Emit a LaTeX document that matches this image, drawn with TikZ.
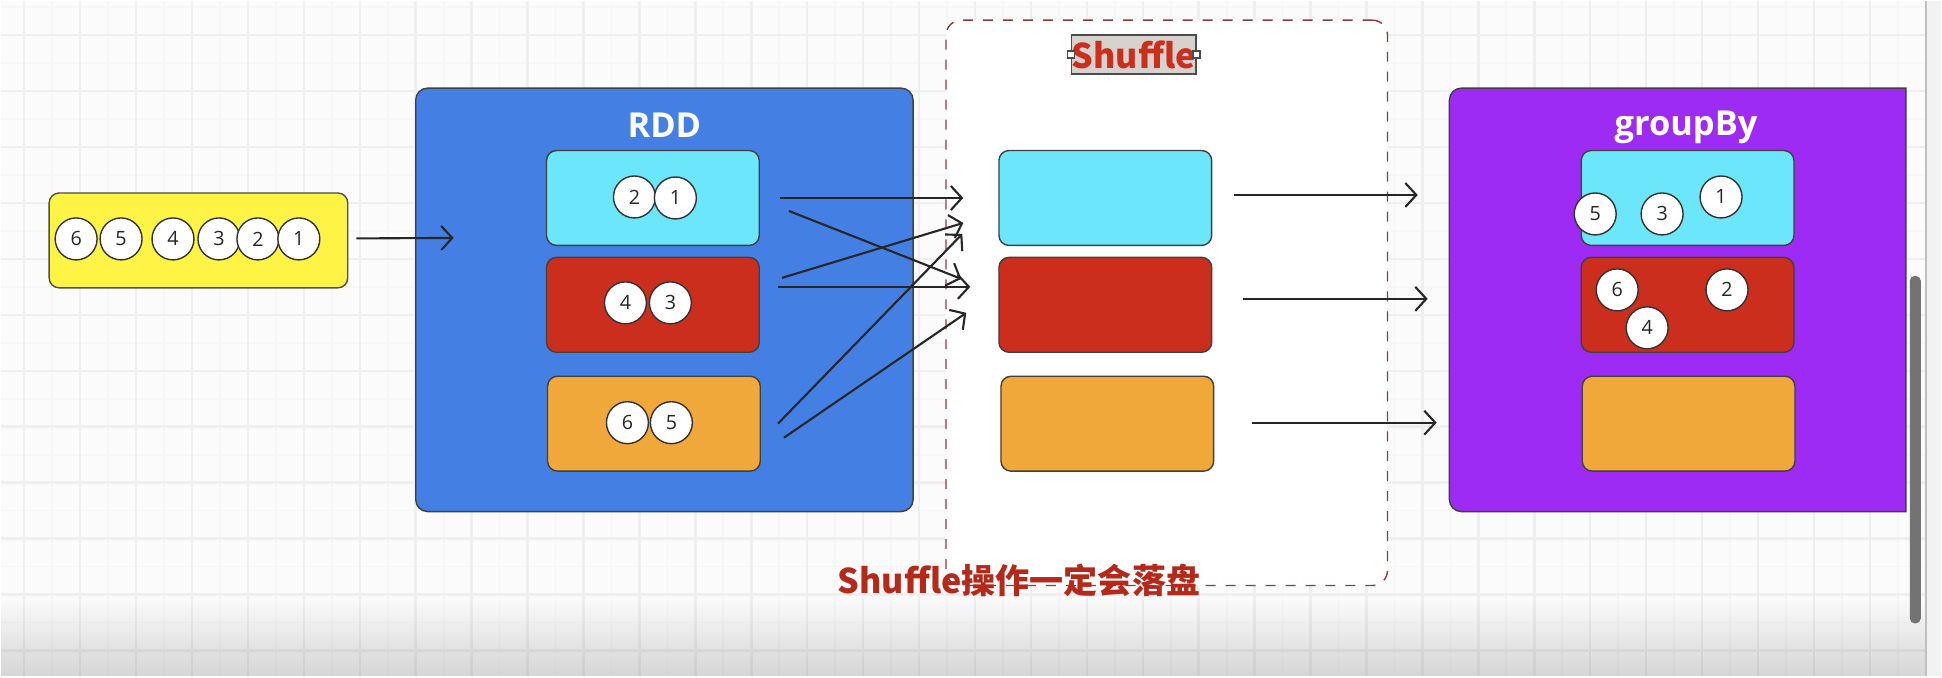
\documentclass[tikz,border=0pt]{standalone}
\usepackage{fontspec}
\setmainfont{Open Sans}
\setsansfont{Open Sans}
\newfontfamily\cjk{Noto Sans CJK SC}
\usepackage{xcolor}
\usetikzlibrary{arrows.meta,fadings}

\definecolor{canvas}{HTML}{FBFBFB}
\definecolor{gridmaj}{HTML}{EFEFEF}
\definecolor{gridmin}{HTML}{F6F6F6}
\definecolor{lemon}{HTML}{FFF345}
\definecolor{rddblue}{HTML}{4480E3}
\definecolor{partcyan}{HTML}{6BE6FA}
\definecolor{partred}{HTML}{CC2E1D}
\definecolor{partorange}{HTML}{F0A83A}
\definecolor{grpurple}{HTML}{9E2BF3}
\definecolor{diskred}{HTML}{B5291B}
\definecolor{dashred}{HTML}{8E3B3B}
\definecolor{tagfill}{HTML}{D8D2CE}

\begin{document}
\begin{tikzpicture}[
  every node/.style={font=\sffamily},
  title/.style={text=white, font=\sffamily\bfseries\fontsize{9.8}{11}\selectfont},
  frame/.style={draw=black!75, rounded corners=0.12cm, outer sep=0pt, minimum height=4.24cm},
  part/.style={draw=black!75, rounded corners=0.1cm, minimum width=2.13cm, minimum height=0.95cm},
  ball/.style={circle, draw=black!80, fill=white, minimum size=0.42cm, inner sep=0pt, text=black!85,
    font=\sffamily\fontsize{5.6}{6}\selectfont},
  arrow/.style={-{Straight Barb[length=1.1mm,width=2.4mm]}, line width=0.6pt, draw=black!85},
  handle/.style={draw=black!70, fill=white, minimum size=0.07cm, inner sep=0pt},
]

\fill[canvas] (0,0) rectangle (19.42,6.76);
\foreach \k in {0,...,33} \draw[gridmin, line width=0.5pt] ({0.51+0.56*\k},0) -- ++(0,6.76);
\foreach \k in {0,...,11} \draw[gridmin, line width=0.5pt] (0,{6.70-0.56*\k}) -- ++(19.42,0);
\foreach \k in {0,...,34} \draw[gridmaj, line width=0.7pt] ({0.23+0.56*\k},0) -- ++(0,6.76);
\foreach \k in {0,...,11} \draw[gridmaj, line width=0.7pt] (0,{6.42-0.56*\k}) -- ++(19.42,0);
\fill[black, opacity=0.15, path fading=north] (0,0) rectangle (19.42,0.8);

\node[draw=dashred, dashed, dash pattern=on 1mm off 1mm, fill=white, rounded corners=0.15cm,
  minimum width=4.42cm, minimum height=5.66cm] (shuf) at (11.67,3.74) {};

\node[draw=black!70, fill=lemon, rounded corners=0.1cm, minimum width=2.99cm, minimum height=0.95cm] (yel) at (1.975,4.365) {};
\foreach \n/\x in {6/0.75,5/1.20,4/1.72,3/2.18,2/2.57,1/2.98}
  \node[ball] (in\n) at (\x,4.38) {\n};

\node[frame, fill=rddblue, minimum width=4.98cm] (rdd) at (6.64,3.77) {};
\node[title] (rddt) at (6.64,5.52) {RDD};
\node[part, fill=partcyan] (r1) at (6.525,4.79) {};
\node[part, fill=partred] (r2) at (6.525,3.72) {};
\node[part, fill=partorange] (r3) at (6.535,2.53) {};
\node[ball] (r1a) at (6.34,4.80) {2};
\node[ball] (r1b) at (6.75,4.79) {1};
\node[ball] (r2a) at (6.25,3.74) {4};
\node[ball] (r2b) at (6.70,3.74) {3};
\node[ball] (r3a) at (6.27,2.54) {6};
\node[ball] (r3b) at (6.71,2.54) {5};

\node[part, fill=partcyan] (s1) at (11.055,4.79) {};
\node[part, fill=partred] (s2) at (11.055,3.72) {};
\node[part, fill=partorange] (s3) at (11.075,2.53) {};

\node[draw=black!70, fill=tagfill, minimum width=1.22cm, minimum height=0.39cm, inner sep=0pt,
  text=partred, font=\cjk\bfseries\fontsize{9.7}{11}\selectfont] (tag) at (11.34,6.225) {Shuffle};
\node[handle] (tagl) at (tag.west) {};
\node[handle] (tagr) at (tag.east) {};

\node[frame, draw=none, minimum width=4.57cm] (grp) at (16.785,3.77) {};
\draw[fill=grpurple, draw=black!75] (grp.north east) -- ([xshift=.12cm]grp.north west)
  arc[start angle=90, end angle=180, radius=.12cm] -- ([yshift=.12cm]grp.south west)
  arc[start angle=180, end angle=270, radius=.12cm] -- (grp.south east) -- cycle;
\node[title] (grpt) at (16.87,5.50) {groupBy};
\node[part, fill=partcyan] (g1) at (16.885,4.79) {};
\node[part, fill=partred] (g2) at (16.885,3.72) {};
\node[part, fill=partorange] (g3) at (16.895,2.53) {};
\node[ball] (g1a) at (15.96,4.63) {5};
\node[ball] (g1b) at (16.63,4.63) {3};
\node[ball] (g1c) at (17.22,4.80) {1};
\node[ball] (g2a) at (16.18,3.87) {6};
\node[ball] (g2b) at (17.28,3.87) {2};
\node[ball] (g2c) at (16.48,3.49) {4};

\draw[arrow] ([xshift=.08cm,yshift=.02cm]yel.east) -- ([xshift=.38cm,yshift=.62cm]rdd.west);

\draw[arrow] ([xshift=.2cm]r1.east) -- ([xshift=-.35cm]s1.west);
\draw[arrow] ([xshift=.29cm,yshift=-.13cm]r1.east) -- ([xshift=-.37cm,yshift=.26cm]s2.west);
\draw[arrow] ([xshift=.22cm,yshift=.27cm]r2.east) -- ([xshift=-.35cm,yshift=-.25cm]s1.west);
\draw[arrow] ([xshift=.18cm,yshift=.18cm]r2.east) -- ([xshift=-.28cm,yshift=.18cm]s2.west);
\draw[arrow] ([xshift=.17cm]r3.east) -- ([xshift=-.36cm,yshift=-.36cm]s1.west);
\draw[arrow] ([xshift=.23cm,yshift=-.14cm]r3.east) -- ([xshift=-.32cm,yshift=-.08cm]s2.west);

\draw[arrow] ([xshift=.22cm,yshift=.03cm]s1.east) -- ([xshift=-1.63cm,yshift=.03cm]g1.west);
\draw[arrow] ([xshift=.31cm,yshift=.06cm]s2.east) -- ([xshift=-1.53cm,yshift=.06cm]g2.west);
\draw[arrow] ([xshift=.38cm,yshift=.01cm]s3.east) -- ([xshift=-1.45cm,yshift=.01cm]g3.west);

\node[text=diskred, font=\cjk\bfseries\fontsize{9.7}{11}\selectfont] (disk) at (10.19,0.96) {Shuffle操作一定会落盘};

\fill[gray!10] (19.27,0) rectangle (19.42,6.76);
\draw[gray!50, line width=0.6pt] (19.27,0) -- (19.27,6.76);
\fill[black!55, rounded corners=0.05cm] (19.11,0.53) rectangle (19.22,4.01);

\end{tikzpicture}
\end{document}
